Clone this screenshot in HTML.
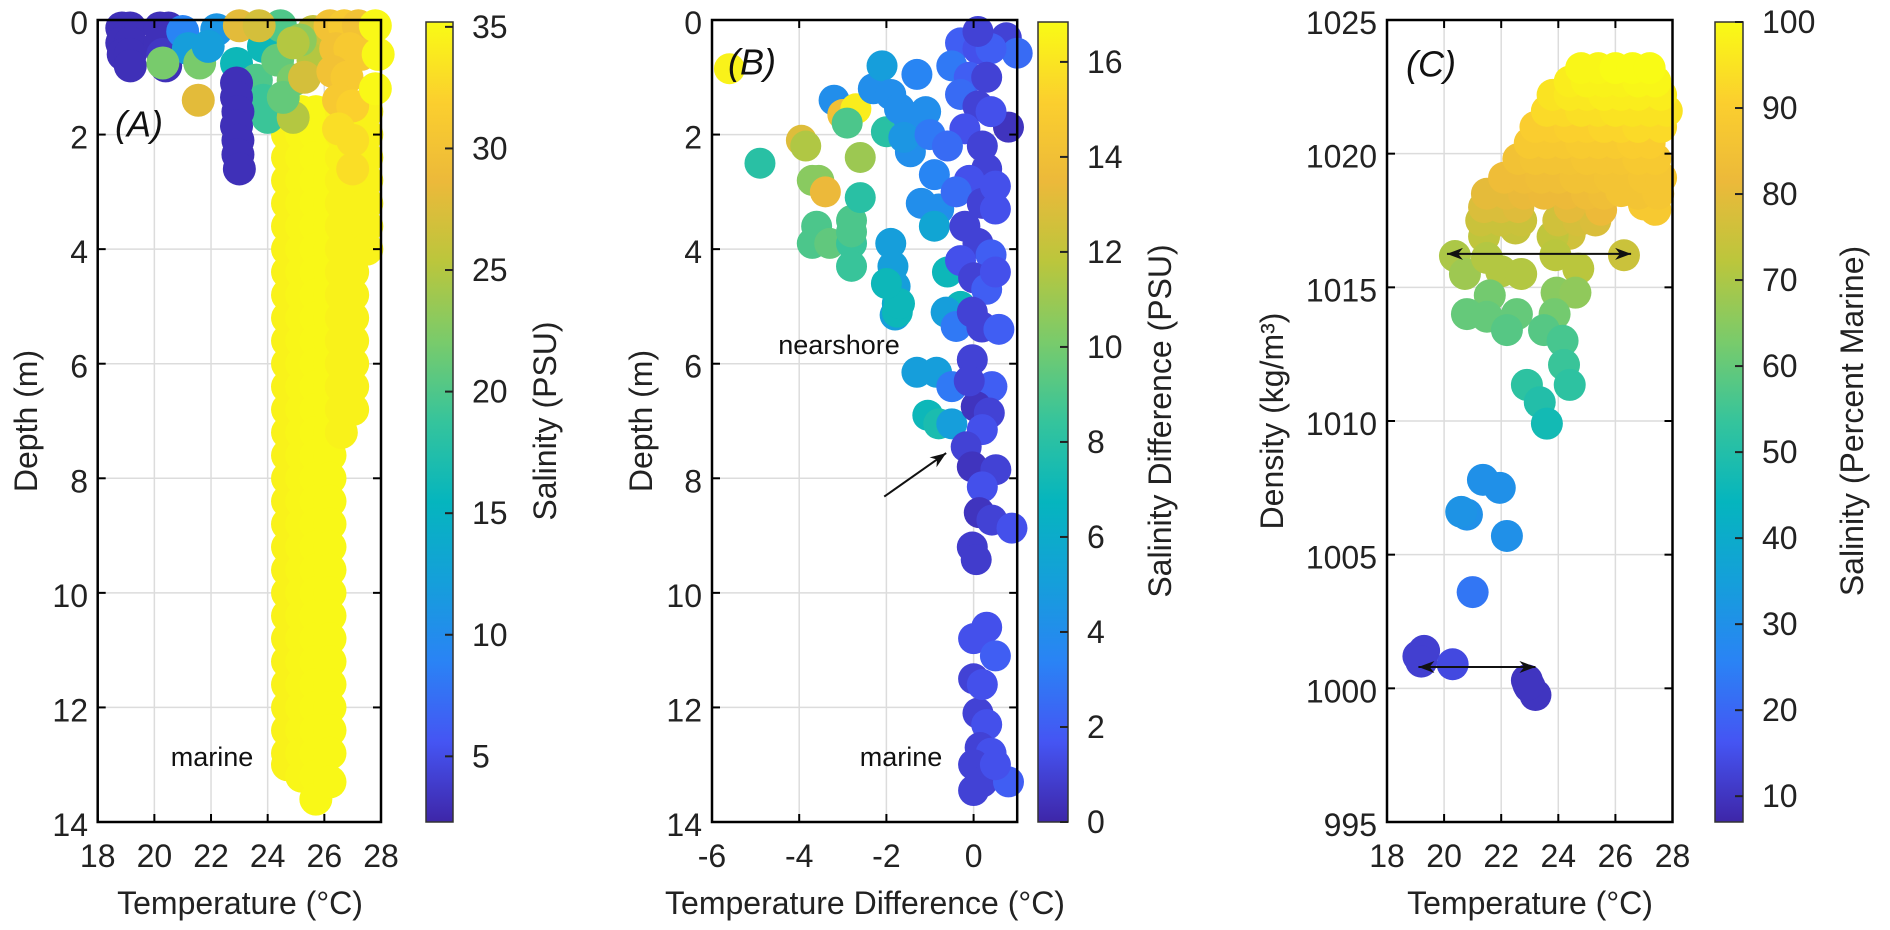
<!DOCTYPE html>
<html><head><meta charset="utf-8">
<style>
html,body{margin:0;padding:0;background:#fff;}
svg{display:block;font-family:"Liberation Sans",Arial,sans-serif;}
</style></head>
<body>
<svg id="fig" width="1890" height="930" viewBox="0 0 1890 930" xmlns="http://www.w3.org/2000/svg">
<defs>
<linearGradient id="parula" x1="0" y1="1" x2="0" y2="0">
<stop offset="0" stop-color="rgb(62,38,168)"/><stop offset="0.1" stop-color="rgb(69,85,243)"/>
<stop offset="0.2" stop-color="rgb(42,131,245)"/><stop offset="0.3" stop-color="rgb(21,159,218)"/>
<stop offset="0.4" stop-color="rgb(5,181,190)"/><stop offset="0.5" stop-color="rgb(53,196,156)"/>
<stop offset="0.6" stop-color="rgb(121,203,107)"/><stop offset="0.7" stop-color="rgb(187,198,60)"/>
<stop offset="0.8" stop-color="rgb(236,185,58)"/><stop offset="0.9" stop-color="rgb(251,207,46)"/>
<stop offset="1" stop-color="rgb(249,251,21)"/>
</linearGradient>
</defs>
<g id="layer-grid"></g>
<g id="layer-points"></g>
<g id="layer-axes"></g>
</svg>
<script>
// ---------- Panel A data: [temperature, depth, salinity]
const aNearshore = [
[18.85,0.14,3],[19.15,0.14,3],[18.85,0.4,3],[19.15,0.4,3],[18.9,0.6,3],[19.15,0.6,3],[19.15,0.8,3],
[20.2,0.14,3],[20.5,0.14,3],[20.2,0.4,3],[20.5,0.4,3],[20.3,0.6,3.5],[20.4,0.8,3],
[21.0,0.2,9],[21.2,0.5,12],[21.6,0.75,22],[20.3,0.75,22],[22.2,0.17,11],[21.9,0.46,12],[21.55,1.4,28],
[23.0,0.1,28],[22.9,0.76,16],[23.85,0.46,16],[23.6,1.05,20],[23.85,1.4,19],[24.0,1.7,19],
[24.35,0.7,21],[24.9,1.05,22],[24.9,1.7,25],[24.55,1.35,21],[24.45,0.1,20],[25.6,0.2,26],[25.6,0.7,25],[25.15,0.35,23],
[23.7,0.1,27],[24.9,0.4,25],[25.3,1.0,27],
[22.9,1.1,3],[22.9,1.35,3],[22.95,1.6,3],[22.9,1.85,3],[22.95,2.1,3],[22.95,2.35,3],[23.0,2.6,3],
[26.2,0.1,30],[26.7,0.1,31],[27.2,0.1,30],[26.4,0.5,30],[26.9,0.5,31],[27.3,0.6,31],[26.3,0.9,30],[26.8,1.0,31],
[26.5,1.4,31],[27.0,1.5,32],[27.0,2.1,33],[27.0,2.6,33],[26.5,1.9,33],[27.8,0.1,35],[27.9,0.6,35],[27.8,1.2,35]
];
// marine cloud: [temperature, salinity, depths]
const aMarineCols = [
[24.7,34.5,[2.0,2.4,2.8,3.2,3.6,4.0,4.4,4.8,5.2,5.6,6.0,6.4,6.8,7.2,7.6,8.0,8.4,8.8,9.2,9.6,10.0,10.4,10.8,11.2,11.6,12.0,12.4,12.8,13.0]],
[25.2,34.8,[1.6,2.0,2.4,2.8,3.2,3.6,4.0,4.4,4.8,5.2,5.6,6.0,6.4,6.8,7.2,7.6,8.0,8.4,8.8,9.2,9.6,10.0,10.4,10.8,11.2,11.6,12.0,12.4,12.8,13.2]],
[25.7,35,[1.6,2.0,2.4,2.8,3.2,3.6,4.0,4.4,4.8,5.2,5.6,6.0,6.4,6.8,7.2,7.6,8.0,8.4,8.8,9.2,9.6,10.0,10.4,10.8,11.2,11.6,12.0,12.4,12.8,13.2,13.6]],
[26.2,35,[1.6,2.0,2.4,2.8,3.2,3.6,4.0,4.4,4.8,5.2,5.6,6.0,6.4,6.8,7.2,7.6,8.0,8.4,8.8,9.2,9.6,10.0,10.4,10.8,11.2,11.6,12.0,12.4,12.8,13.3]],
[26.6,34.5,[1.6,2.0,2.4,2.8,3.2,3.6,4.0,4.4,4.8,5.2,5.6,6.0,6.4,6.8,7.2]],
[27.0,34.5,[2.0,2.4,2.8,3.2,3.6,4.0,4.4,4.8,5.2,5.6,6.0,6.4,6.8]],
[27.5,34.5,[1.6,2.0,2.4,2.8,3.2,3.6,4.0]]
];
// ---------- Panel B data: [temperature difference, depth, salinity difference]
const bPoints = [
[-5.6,0.85,16.5],[-4.9,2.5,8],[-3.95,2.1,13],[-3.85,2.2,11.5],[-3.7,2.8,10.5],[-3.55,2.8,10.5],[-3.4,3.0,13.5],
[-3.2,1.4,4],[-3.0,1.65,14],[-2.7,1.55,16.3],[-2.9,1.8,9],[-2.6,2.4,11],[-2.3,1.2,4],[-2.1,0.8,5],[-2.0,1.95,8],
[-3.6,3.6,9],[-3.7,3.9,9],[-3.3,3.9,9.5],[-2.8,3.5,9],[-2.8,3.9,8.5],[-2.8,4.3,8.5],[-2.6,3.1,8],[-2.8,3.7,9],
[-1.9,3.9,5],[-1.85,4.3,5],[-1.8,4.65,5],[-1.75,4.95,6],[-1.8,5.15,5],
[-1.9,1.3,4],[-1.7,1.55,4],[-1.5,1.7,4],[-1.45,2.3,4],[-1.6,2.05,4.5],[-1.3,0.95,3.5],[-1.1,1.6,4],[-1.0,2.0,3],
[-0.9,2.7,3.5],[-0.8,3.3,4],[-1.2,3.2,4],[-0.9,3.6,5.5],
[-1.3,6.15,5],[-0.85,6.15,5],[-0.5,6.4,3],[-1.05,6.9,7],[-0.8,7.05,7.5],[-0.5,7.05,5],[-1.75,5.1,7],[-1.7,4.95,7],
[-2.0,4.6,7],[-0.6,4.4,7],[-0.3,5.0,7],[-0.63,5.1,5],[-0.4,5.35,3],
[0.75,0.31,1],[1.0,0.58,2.5],[-0.3,0.4,2],[0.1,0.5,1.5],[0.4,0.5,2],[-0.5,0.8,3],[-0.1,1.0,2],[0.3,1.0,1],[0.8,1.87,0.5],
[-0.3,1.3,2.5],[0.1,1.5,1],[0.4,1.6,1.5],[-0.2,1.9,1.5],[0.2,2.2,1],[-0.6,2.2,2.5],[0.3,2.6,1],[-0.1,2.8,1.5],
[-0.4,3.0,2.5],[0.2,3.2,1],[0.5,3.3,1.5],[-0.2,3.6,1],[0.1,3.9,1],[0.4,4.1,2],[-0.3,4.2,1.5],[0.0,4.5,1],[0.3,4.7,2],
[-0.03,5.1,1],[0.19,5.36,1],[0.58,5.4,2],[-0.03,5.93,1],[0.42,6.4,2],[0.06,6.75,0.5],[0.36,6.86,1],[0.2,7.15,1.5],
[-0.17,7.45,1],[-0.03,7.8,0.5],[0.51,7.85,1],[0.2,8.15,1.5],[0.13,8.6,0.5],[0.42,8.73,1],[0.88,8.87,1.5],
[-0.03,9.2,0.8],[0.06,9.42,0.8],[0.1,0.2,1],[0.5,2.9,1.5],[0.5,4.4,1.5],[-0.1,6.3,1],
[0.0,10.8,1.5],[0.3,10.6,1.5],[0.5,11.1,2],[0.0,11.5,1],[0.1,12.1,1],[0.3,12.3,1.5],[0.15,12.7,1],[0.4,12.8,1.5],
[0.0,13.0,1],[0.2,13.3,1],[0.0,13.45,1],[0.8,13.3,2],[0.5,13.0,1.5],[0.2,11.6,1.5]
];
// ---------- Panel C data: [temperature, density, salinity % marine]
const cPoints = [
[21.4,1016.9,73],[22.5,1017.2,74],[24.4,1017.0,76],[23.8,1016.9,73],
[21.3,1017.5,75],[22.0,1017.5,75],[22.7,1017.5,75],[24.0,1017.5,76],[24.7,1017.5,77],[25.3,1017.5,78],
[21.4,1018.0,78],[22.0,1018.0,78],[22.6,1018.0,79],[24.4,1018.0,80],[25.5,1017.9,82],[27.0,1018.1,88],[27.4,1017.9,88],
[21.5,1018.5,80],[22.2,1018.5,80],[22.8,1018.5,81],[23.5,1018.5,82],[24.3,1018.5,82],[25.0,1018.5,83],[25.6,1018.5,84],[26.2,1018.6,86],[26.8,1018.5,86],[27.5,1018.5,87],
[22.1,1019.1,83],[22.8,1019.1,83],[23.4,1019.1,84],[24.0,1019.1,84],[24.6,1019.1,85],[25.2,1019.1,85],[25.8,1019.1,86],[26.4,1019.1,86],[27.0,1019.1,87],[27.6,1019.1,87],
[22.6,1019.8,85],[23.2,1019.8,86],[23.8,1019.8,86],[24.4,1019.8,86],[25.0,1019.8,87],[25.6,1019.8,87],[26.2,1019.8,87],[26.8,1019.8,88],[27.4,1019.8,88],
[23.0,1020.4,88],[23.6,1020.4,88],[24.2,1020.4,88],[24.8,1020.4,89],[25.4,1020.4,89],[26.0,1020.4,89],[26.6,1020.4,90],[27.2,1020.4,90],
[23.2,1021.0,90],[23.8,1021.0,90],[24.4,1021.0,91],[25.0,1021.0,91],[25.6,1021.0,92],[26.2,1021.0,92],[26.8,1021.0,93],[27.6,1021.0,93],
[23.6,1021.6,93],[24.2,1021.6,93],[24.8,1021.6,94],[25.4,1021.6,94],[26.0,1021.6,95],[26.6,1021.6,95],[27.2,1021.6,95],[27.8,1021.6,95],
[23.8,1022.2,95],[24.4,1022.2,96],[25.0,1022.2,96],[25.6,1022.2,97],[26.2,1022.2,97],[26.8,1022.2,97],[27.6,1022.2,97],
[24.4,1022.7,97],[25.0,1022.7,98],[25.6,1022.7,98],[26.2,1022.7,98],[26.8,1022.7,99],[27.4,1022.7,99],
[24.8,1023.2,99],[25.4,1023.2,99],[26.0,1023.2,100],[26.6,1023.2,100],[27.2,1023.2,100],
[20.38,1016.17,70],[20.73,1015.5,68],[21.5,1016.1,71],[22.0,1015.6,71],[22.7,1015.5,71],[23.9,1016.2,72],[24.7,1015.7,72],[26.3,1016.2,75],
[21.6,1014.7,62],[20.8,1014.0,60],[21.5,1013.9,60],[22.55,1014.0,60],[22.2,1013.4,58],
[23.94,1014.8,65],[24.6,1014.8,66],[23.87,1014.0,62],[23.5,1013.4,58],[24.15,1013.0,56],[24.2,1012.1,54],
[24.4,1011.35,52],[22.9,1011.35,52],[23.35,1010.7,50],[23.6,1009.9,47],
[21.36,1007.8,30],[21.95,1007.5,30],
[20.8,1006.5,30],[20.6,1006.6,31],[22.2,1005.7,30],[21.0,1003.6,23],
[19.1,1001.2,12],[19.3,1001.4,12],[19.2,1001.0,12],[20.3,1000.9,14],
[22.9,1000.3,10],[23.0,1000.05,10],[23.2,999.75,10],[22.95,1000.15,10]
];
// ---------- tick labels
const aXTicks = [18,20,22,24,26,28];
const depthTicks = [0,2,4,6,8,10,12,14];
const bXTicks = [-6,-4,-2,0];
const cXTicks = [18,20,22,24,26,28];
const cYTicks = [995,1000,1005,1010,1015,1020,1025];
const cbATicks = [5,10,15,20,25,30,35];
const cbBTicks = [0,2,4,6,8,10,12,14,16];
const cbCTicks = [10,20,30,40,50,60,70,80,90,100];

// ---------- scales
const TOP=20, BOT=822;
const xA = t => 97.7 + (t-18)*28.33;
const yD = d => TOP + d*(BOT-TOP)/14;
const xB = v => 712 + (v+6)*43.6;
const xC = t => 1387 + (t-18)*28.55;
const yC = r => TOP + (1025-r)*(BOT-TOP)/30;
const climA=[2.3,35.2], climB=[0,16.84], climC=[7,100];
const RA=16.5, RB=15.5, RC=16;

const PAR=[[62,38,168],[69,85,243],[42,131,245],[21,159,218],[5,181,190],[53,196,156],[121,203,107],[187,198,60],[236,185,58],[251,207,46],[249,251,21]];
function parula(f){f=Math.max(0,Math.min(1,f));const p=f*10,i=Math.min(9,Math.floor(p)),u=p-i;
 const a=PAR[i],b=PAR[i+1];return 'rgb('+a.map((v,k)=>Math.round(v+(b[k]-v)*u)).join(',')+')';}

const NS='http://www.w3.org/2000/svg';
const gGrid=document.getElementById('layer-grid'),gPts=document.getElementById('layer-points'),gAx=document.getElementById('layer-axes');
function el(tag,attrs,parent){const e=document.createElementNS(NS,tag);for(const k in attrs)e.setAttribute(k,attrs[k]);parent.appendChild(e);return e;}
function txt(str,x,y,size,parent,anchor,extra){const t=el('text',Object.assign({x:x,y:y,'font-size':size,'text-anchor':anchor||'middle','dominant-baseline':'central',fill:'#222'},extra||{}),parent);t.textContent=str;return t;}

function dot(x,y,r,col,name){const c=el('circle',{cx:x,cy:y,r:r,fill:col},gPts);
 
 }

function axesBox(x0,x1,name){
 const r=el('rect',{x:x0,y:TOP,width:x1-x0,height:BOT-TOP,fill:'none',stroke:'#000','stroke-width':2.5},gAx);
 
 }
function vgrid(x){el('line',{x1:x,x2:x,y1:TOP,y2:BOT,stroke:'#dcdcdc','stroke-width':1.5},gGrid);}
function hgrid(y,x0,x1){el('line',{x1:x0,x2:x1,y1:y,y2:y,stroke:'#dcdcdc','stroke-width':1.5},gGrid);}
function xtick(x){el('line',{x1:x,x2:x,y1:BOT,y2:BOT-8,stroke:'#000','stroke-width':2},gAx);el('line',{x1:x,x2:x,y1:TOP,y2:TOP+8,stroke:'#000','stroke-width':2},gAx);}
function ytick(y,x0,x1){el('line',{x1:x0,x2:x0+8,y1:y,y2:y,stroke:'#000','stroke-width':2},gAx);el('line',{x1:x1,x2:x1-8,y1:y,y2:y,stroke:'#000','stroke-width':2},gAx);}

function colorbar(x0,x1,clim,ticks,title,titleX,name){
 const r=el('rect',{x:x0,y:22,width:x1-x0,height:800,fill:'url(#parula)',stroke:'#333','stroke-width':1.5},gAx);
 
 
 const yc=v=>822-(v-clim[0])/(clim[1]-clim[0])*800;
 ticks.forEach(v=>{const y=yc(v);
  el('line',{x1:x1-8,x2:x1,y1:y,y2:y,stroke:'#222','stroke-width':2},gAx);
  const t=txt(String(v),x1+19,y,32,gAx,'start');
  
  });
 const tt=txt(title,0,0,32,gAx,'middle',{transform:'translate('+titleX+',421) rotate(-90)'});
 
 
}

// ---------- Panel A
aXTicks.forEach(t=>{if(t>18&&t<28)vgrid(xA(t));});
depthTicks.forEach(d=>{if(d>0&&d<14)hgrid(yD(d),xA(18),xA(28));});
aMarineCols.forEach(col=>col[2].forEach(d=>dot(xA(col[0]),yD(d),RA,parula((col[1]-climA[0])/(climA[1]-climA[0])),'marine-point-a')));
aNearshore.forEach(p=>dot(xA(p[0]),yD(p[1]),RA,parula((p[2]-climA[0])/(climA[1]-climA[0])),'nearshore-point-a'));
axesBox(xA(18),xA(28),'axes-a');
aXTicks.forEach(t=>{xtick(xA(t));const l=txt(String(t),xA(t),856,32,gAx);
 
 });
depthTicks.forEach(d=>{ytick(yD(d),xA(18),xA(28));const l=txt(String(d),88,yD(d)+3,32,gAx,'end');
 
 });

// ---------- Panel B
bXTicks.forEach(v=>{if(v>-6)vgrid(xB(v));});
depthTicks.forEach(d=>{if(d>0&&d<14)hgrid(yD(d),xB(-6),xB(1));});
bPoints.forEach(p=>dot(xB(p[0]),yD(p[1]),RB,parula((p[2]-climB[0])/(climB[1]-climB[0])),'point-b'));
axesBox(xB(-6),xB(1),'axes-b');
bXTicks.forEach(v=>{xtick(xB(v));const l=txt(String(v),xB(v),856,32,gAx);
 
 });
depthTicks.forEach(d=>{ytick(yD(d),xB(-6),xB(1));const l=txt(String(d),702,yD(d)+3,32,gAx,'end');
 
 });

// ---------- Panel C
cXTicks.forEach(t=>{if(t>18&&t<28)vgrid(xC(t));});
cYTicks.forEach(r=>{if(r>995&&r<1025)hgrid(yC(r),xC(18),xC(28));});
cPoints.forEach(p=>dot(xC(p[0]),yC(p[1]),RC,parula((p[2]-climC[0])/(climC[1]-climC[0])),'point-c'));
axesBox(xC(18),xC(28),'axes-c');
cXTicks.forEach(t=>{xtick(xC(t));const l=txt(String(t),xC(t),856,32,gAx);
 
 });
cYTicks.forEach(r=>{ytick(yC(r),xC(18),xC(28));const l=txt(String(r),1377,yC(r)+3,32,gAx,'end');
 
 });

// ---------- colorbars
colorbar(426,453,climA,cbATicks,'Salinity (PSU)',545,'colorbar-a');
colorbar(1038,1068,climB,cbBTicks,'Salinity Difference (PSU)',1160,'colorbar-b');
colorbar(1715,1743,climC,cbCTicks,'Salinity (Percent Marine)',1852,'colorbar-c');

// ---------- arrows (annotation positions in data units)
const arrowDefs=[[xB(-2.05),yD(8.32),xB(-0.63),yD(7.56),false,'arrow-b'],
 [xC(20.1),yC(1016.25),xC(26.55),yC(1016.25),true,'double-arrow-upper-c'],
 [xC(19.1),yC(1000.8),xC(23.2),yC(1000.8),true,'double-arrow-lower-c']];
function head(x,y,ang){const L=16,W=6;const c=Math.cos(ang),s=Math.sin(ang);
 const p=[[x,y],[x-L*c+W*s,y-L*s-W*c],[x-L*c*0.7,y-L*s*0.7],[x-L*c-W*s,y-L*s+W*c]];
 el('polygon',{points:p.map(q=>q.join(',')).join(' '),fill:'#111'},gAx);}
arrowDefs.forEach(a=>{const ln=el('line',{x1:a[0],y1:a[1],x2:a[2],y2:a[3],stroke:'#111','stroke-width':2},gAx);
 
 
 const ang=Math.atan2(a[3]-a[1],a[2]-a[0]);head(a[2],a[3],ang);if(a[4])head(a[0],a[1],ang+Math.PI);});
</script>
<!-- static labels -->
<svg width="1890" height="930" style="position:absolute;left:0;top:0;font-family:'Liberation Sans',Arial,sans-serif">
<text x="240" y="903" font-size="32" text-anchor="middle" dominant-baseline="central" fill="#222">Temperature (°C)</text>
<text x="865" y="903" font-size="32" text-anchor="middle" dominant-baseline="central" fill="#222">Temperature Difference (°C)</text>
<text x="1530" y="903" font-size="32" text-anchor="middle" dominant-baseline="central" fill="#222">Temperature (°C)</text>
<text transform="translate(26,421) rotate(-90)" font-size="32" text-anchor="middle" dominant-baseline="central" fill="#222">Depth (m)</text>
<text transform="translate(641,421) rotate(-90)" font-size="32" text-anchor="middle" dominant-baseline="central" fill="#222">Depth (m)</text>
<text transform="translate(1272,421) rotate(-90)" font-size="32" text-anchor="middle" dominant-baseline="central" fill="#222">Density (kg/m³)</text>
<text x="115" y="124" font-size="36" font-style="italic" dominant-baseline="central" fill="#111">(A)</text>
<text x="728" y="62" font-size="36" font-style="italic" dominant-baseline="central" fill="#111">(B)</text>
<text x="1406" y="64" font-size="36" font-style="italic" dominant-baseline="central" fill="#111">(C)</text>
<text x="212" y="757" font-size="27" text-anchor="middle" dominant-baseline="central" fill="#111">marine</text>
<text x="901" y="757" font-size="27" text-anchor="middle" dominant-baseline="central" fill="#111">marine</text>
<text x="839" y="345" font-size="27" text-anchor="middle" dominant-baseline="central" fill="#111">nearshore</text>
</svg>
</body></html>
